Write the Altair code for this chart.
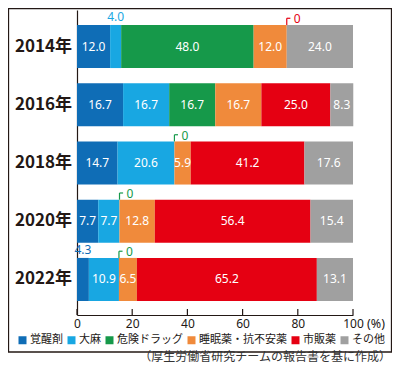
import altair as alt
import pandas as pd

years = ["2014年", "2016年", "2018年", "2020年", "2022年"]
categories = ["覚醒剤", "大麻", "危険ドラッグ", "睡眠薬・抗不安薬", "市販薬", "その他"]
colors = ["#0f6db6", "#18a7e2", "#16994a", "#f08a3b", "#e50012", "#a0a0a0"]

stimulants = [12.0, 16.7, 14.7, 7.7, 4.3]
cannabis = [4.0, 16.7, 20.6, 7.7, 10.9]
dangerous = [48.0, 16.7, 0.0, 0.0, 0.0]
sleeping = [12.0, 16.7, 5.9, 12.8, 6.5]
otc = [0.0, 25.0, 41.2, 56.4, 65.2]
others = [24.0, 8.3, 17.6, 15.4, 13.1]

ticks = [0, 20, 40, 60, 80, 100]
caption = "（厚生労働省研究チームの報告書を基に作成）"

series = [stimulants, cannabis, dangerous, sleeping, otc, others]
rows = []
for i, y in enumerate(years):
    cum = 0.0
    for j, c in enumerate(categories):
        v = series[j][i]
        rows.append({"year": y, "idx": i, "cat": c, "value": v,
                     "start": cum, "end": cum + v, "mid": cum + v / 2,
                     "label": f"{v:.1f}"})
        cum += v
df = pd.DataFrame(rows)
ydf = pd.DataFrame({"year": years, "idx": list(range(len(years)))})
tdf = pd.DataFrame({"t": ticks})
one = pd.DataFrame({"a": [0]})

DARK = "#231815"
JP = "Noto Sans CJK JP"
NUM = "Noto Sans"
HALF = 0.37
xs = alt.Scale(domain=[0, 100], nice=False, zero=False)
ys = alt.Scale(domain=[-0.627, 4.61], nice=False, zero=False, reverse=True)
cs = alt.Scale(domain=categories, range=colors)

base = alt.Chart(df).transform_calculate(
    top=f"datum.idx - {HALF}", bot=f"datum.idx + {HALF}",
    btop=f"datum.idx - {HALF} - 0.115", bend="datum.start + 1.3"
)

bars = base.transform_filter("datum.value > 0").mark_bar(size=1).encode(
    x=alt.X("start:Q", scale=xs,
            axis=alt.Axis(values=ticks, title=None, grid=False, ticks=False,
                          domainColor=DARK, domainWidth=1.2, labelFont=NUM,
                          labelFontSize=12, labelColor=DARK, labelPadding=3,
                          labelFlush=False)),
    x2="end:Q",
    y=alt.Y("top:Q", scale=ys,
            axis=alt.Axis(title=None, grid=False, ticks=False, labels=False,
                          domainColor=DARK, domainWidth=1.2)),
    y2="bot:Q",
    color=alt.Color("cat:N", scale=cs,
                    legend=alt.Legend(orient="none", legendX=-60, legendY=324.5,
                                      direction="horizontal", title=None,
                                      symbolType="square", symbolSize=64,
                                      symbolStrokeWidth=0, labelFont=JP,
                                      labelFontSize=11, labelColor=DARK,
                                      columnPadding=3, labelOffset=2,
                                      padding=0)),
)

inner = base.transform_filter("datum.value >= 5").mark_text(
    color="white", fontSize=12, font=NUM, baseline="middle"
).encode(x=alt.X("mid:Q", scale=xs), y=alt.Y("idx:Q", scale=ys), text="label:N")

outer = base.transform_filter("datum.value > 0 && datum.value < 5").mark_text(
    fontSize=12, font=NUM, baseline="middle", dy=-8
).encode(x=alt.X("mid:Q", scale=xs), y=alt.Y("top:Q", scale=ys), text="label:N",
         color=alt.Color("cat:N", scale=cs, legend=None))

zero = base.transform_filter("datum.value == 0")
zv = zero.mark_rule(strokeWidth=1.2).encode(
    x=alt.X("start:Q", scale=xs), y=alt.Y("top:Q", scale=ys), y2="btop:Q",
    color=alt.Color("cat:N", scale=cs, legend=None))
zh = zero.mark_rule(strokeWidth=1.2).encode(
    x=alt.X("start:Q", scale=xs), x2="bend:Q", y=alt.Y("btop:Q", scale=ys),
    color=alt.Color("cat:N", scale=cs, legend=None))
zt = zero.mark_text(fontSize=12, font=NUM, align="left", baseline="middle", dx=7, dy=1).encode(
    x=alt.X("start:Q", scale=xs), y=alt.Y("btop:Q", scale=ys), text=alt.value("0"),
    color=alt.Color("cat:N", scale=cs, legend=None))

ylab = alt.Chart(ydf).mark_text(align="right", baseline="middle", fontSize=17,
                                fontWeight="bold", font=JP, color=DARK).encode(
    x=alt.value(-5), y=alt.Y("idx:Q", scale=ys), text="year:N")

tk = alt.Chart(tdf).mark_rule(color=DARK, strokeWidth=1.2).encode(
    x=alt.X("t:Q", scale=xs), y=alt.value(299), y2=alt.value(305))

pct = alt.Chart(one).mark_text(align="left", baseline="middle", fontSize=12.5,
                               font=NUM, color=DARK).encode(
    x=alt.value(290), y=alt.value(314), text=alt.value("(%)"))

frame = alt.Chart(one).mark_rect(filled=False, stroke=DARK, strokeWidth=1.3).encode(
    x=alt.value(-68.5), x2=alt.value(314.5), y=alt.value(-1.5), y2=alt.value(342))

cap = alt.Chart(one).mark_text(align="right", baseline="middle", fontSize=12,
                               font=JP, color="#333333").encode(
    x=alt.value(314), y=alt.value(347), text=alt.value(caption))

chart = alt.layer(frame, bars, inner, outer, zv, zh, zt, ylab, tk, pct, cap).properties(
    width=276, height=305,
    autosize=alt.AutoSizeParams(type="none"),
    padding={"left": 69, "top": 2, "right": 39, "bottom": 49},
).configure_view(stroke=None)

chart.save("out.html", embed_options={"renderer": "svg", "actions": False})
